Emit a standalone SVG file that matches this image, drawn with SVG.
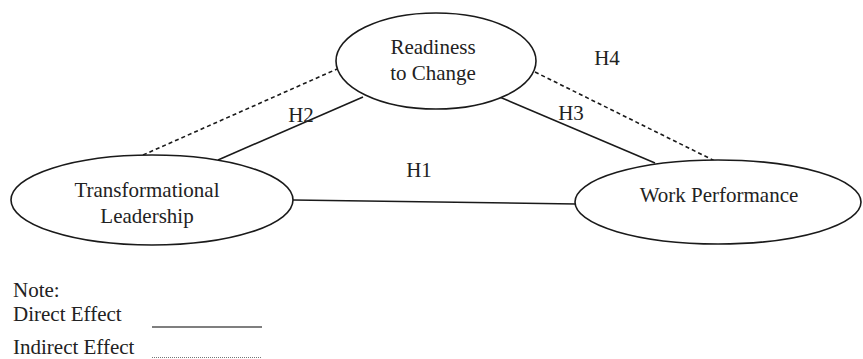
<svg xmlns="http://www.w3.org/2000/svg" width="863" height="359" viewBox="0 0 863 359">
<style>
.node{fill:#fff;stroke:#1a1a1a;stroke-width:1.6}
.t{font-family:"Liberation Serif","Times New Roman",serif;font-size:21px;fill:#222}
.solid{stroke:#1a1a1a;stroke-width:1.6;fill:none}
.dash{stroke:#1a1a1a;stroke-width:1.6;fill:none;stroke-dasharray:4 3}
</style>
<rect width="863" height="359" fill="#fff"/>
<g id="connectors">
<line class="solid" x1="293" y1="200" x2="576" y2="204"/>
<line class="solid" x1="218" y1="160" x2="363" y2="97"/>
<line class="dash" x1="143" y1="155" x2="337" y2="69"/>
<line class="solid" x1="490" y1="93" x2="655" y2="163"/>
<line class="dash" x1="535" y1="72" x2="717" y2="162"/>
</g>
<g id="labels">
<text class="t" x="419" y="177" text-anchor="middle">H1</text>
<text class="t" x="301" y="122" text-anchor="middle">H2</text>
<text class="t" x="571" y="120" text-anchor="middle">H3</text>
<text class="t" x="607" y="65" text-anchor="middle">H4</text>
</g>
<g id="readiness">
<ellipse class="node" cx="436" cy="61" rx="100" ry="48"/>
<text class="t" x="433" y="54" text-anchor="middle">Readiness</text>
<text class="t" x="433" y="80" text-anchor="middle">to Change</text>
</g>
<g id="transformational">
<ellipse class="node" cx="152" cy="200" rx="141" ry="45"/>
<text class="t" x="147" y="197" text-anchor="middle">Transformational</text>
<text class="t" x="147" y="223" text-anchor="middle">Leadership</text>
</g>
<g id="work">
<ellipse class="node" cx="718" cy="202" rx="143" ry="42"/>
<text class="t" x="719" y="202" text-anchor="middle">Work Performance</text>
</g>
<g id="legend">
<text class="t" x="13" y="297">Note:</text>
<text class="t" x="13" y="321">Direct Effect</text>
<text class="t" x="13" y="354">Indirect Effect</text>
<line x1="152" y1="327" x2="262" y2="327" stroke="#555" stroke-width="1.6"/>
<line x1="152" y1="357.5" x2="262" y2="357.5" stroke="#777" stroke-width="1.2" stroke-dasharray="1 1"/>
</g>
</svg>
